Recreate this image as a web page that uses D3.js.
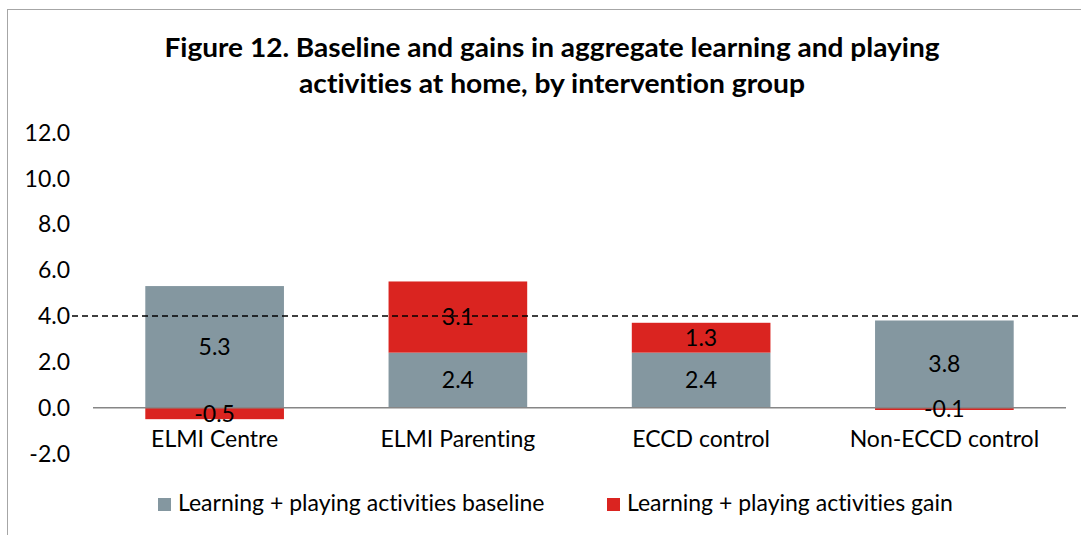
<!DOCTYPE html>
<html><head><meta charset="utf-8">
<script src="https://cdn.jsdelivr.net/npm/d3@7"></script>
<style>body{margin:0;background:#fff}svg{display:block}text{font-family:Lato,"Open Sans",sans-serif;font-variant-ligatures:none;font-feature-settings:"liga" 0}</style>
</head><body><svg id="c" width="1081" height="535"></svg>
<script>
const categories = ["ELMI Centre","ELMI Parenting","ECCD control","Non-ECCD control"];
const baseline = [5.3, 2.4, 2.4, 3.8];
const gain = [-0.5, 3.1, 1.3, -0.1];
const yTicks = [-2,0,2,4,6,8,10,12];
const refValue = 4.0;
const seriesNames = ["Learning + playing activities baseline","Learning + playing activities gain"];
const colors = ["#8497A0","#DA2420"];
const titleLines = ["Figure 12. Baseline and gains in aggregate learning and playing","activities at home, by intervention group"];

const svg = d3.select("#c");
// frame
svg.append("rect").attr("x",7.5).attr("y",9.5).attr("width",1090).attr("height",540)
  .attr("fill","none").attr("stroke","#a6a6a6").attr("stroke-width",1);

const x = d3.scaleBand().domain(categories).range([93,1066]).paddingInner(0.43).paddingOuter(0.215);
const y = d3.scaleLinear().domain([-2,12]).range([453.6,132.3]);

// title
const titleLen = [775,506];
svg.append("g").selectAll("text").data(titleLines).join("text")
  .attr("x",552).attr("y",(d,i)=>57+i*36).attr("text-anchor","middle")
  .attr("font-size",27).attr("font-weight","bold").attr("fill","#000")
  .attr("textLength",(d,i)=>titleLen[i]).attr("lengthAdjust","spacingAndGlyphs").text(d=>d);

// y tick labels
svg.append("g").selectAll("text").data(yTicks).join("text")
  .attr("x",70).attr("y",d=>y(d)+8.3).attr("text-anchor","end")
  .attr("font-size",23).attr("fill","#000").text(d=>d3.format(".1f")(d).replace("−","-"));

// stacked segments
const segs = [];
categories.forEach((c,i)=>{
  let pos=0, neg=0;
  [baseline[i],gain[i]].forEach((v,s)=>{
    let y0,y1;
    if(v>=0){y0=pos;y1=pos+v;pos=y1;}else{y0=neg;y1=neg+v;neg=y1;}
    segs.push({c,s,v,y0,y1});
  });
});
svg.append("g").selectAll("rect").data(segs).join("rect")
  .attr("x",d=>x(d.c)).attr("width",x.bandwidth())
  .attr("y",d=>y(Math.max(d.y0,d.y1))).attr("height",d=>Math.abs(y(d.y0)-y(d.y1)))
  .attr("fill",d=>colors[d.s]);

// zero axis line
svg.append("line").attr("x1",93).attr("x2",1066).attr("y1",y(0)).attr("y2",y(0))
  .attr("stroke","#868686").attr("stroke-width",1.5);

// dashed reference line
svg.append("line").attr("x1",72).attr("x2",1081).attr("y1",y(refValue)).attr("y2",y(refValue))
  .attr("stroke","#000").attr("stroke-width",1.5).attr("stroke-dasharray","6,4");

// segment labels
svg.append("g").selectAll("text").data(segs).join("text")
  .attr("x",d=>x(d.c)+x.bandwidth()/2).attr("y",d=>y((d.y0+d.y1)/2)+8.3)
  .attr("text-anchor","middle").attr("font-size",23).attr("fill","#000")
  .text(d=>d3.format(".1f")(d.v).replace("−","-"));

// category labels
svg.append("g").selectAll("text").data(categories).join("text")
  .attr("x",d=>x(d)+x.bandwidth()/2).attr("y",446.5).attr("text-anchor","middle")
  .attr("font-size",23).attr("fill","#000").text(d=>d);

// legend
const lx=[158,607];
const lg = svg.append("g").selectAll("g").data(seriesNames).join("g")
  .attr("transform",(d,i)=>`translate(${lx[i]},0)`);
lg.append("rect").attr("x",0).attr("y",498).attr("width",13).attr("height",13).attr("fill",(d,i)=>colors[i]);
lg.append("text").attr("x",20).attr("y",511).attr("font-size",23).attr("fill","#000").text(d=>d);
</script></body></html>
